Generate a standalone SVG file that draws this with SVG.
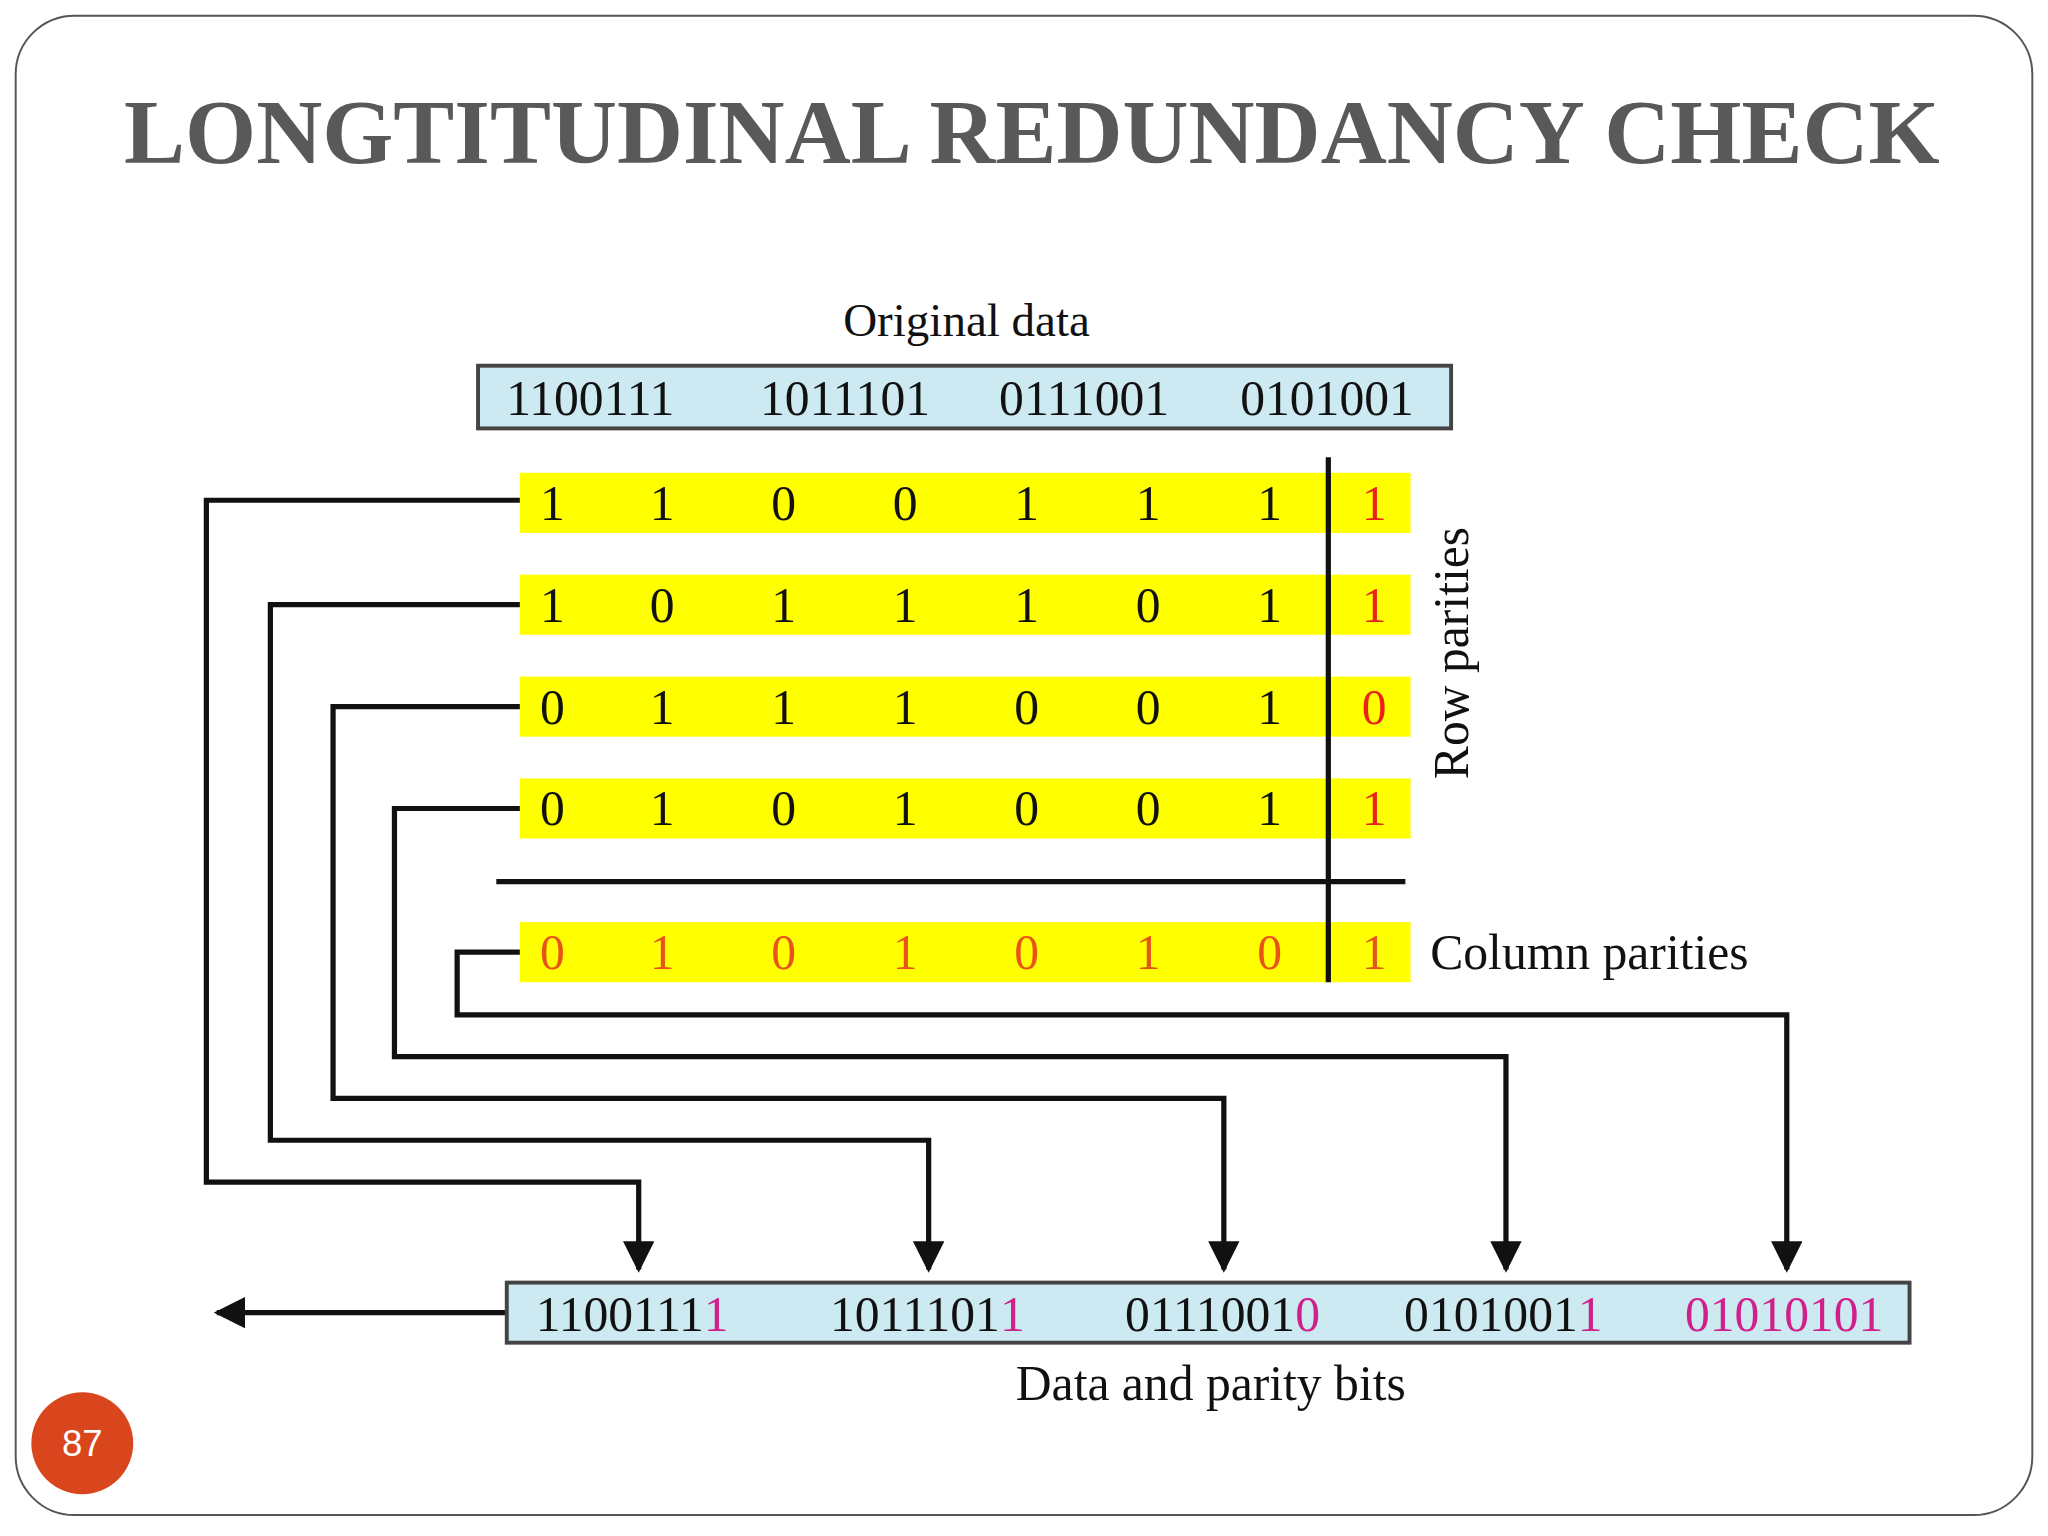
<svg xmlns="http://www.w3.org/2000/svg" width="2048" height="1536" viewBox="0 0 2048 1536">
<style>
.s{font-family:"Liberation Serif",serif;fill:#111}
.d{font-size:38px;text-anchor:middle}
.r{fill:#e8231a}
.o{fill:#e8531a}
.m{fill:#d0208a}
.y{fill:#ffff00}
.c{fill:none;stroke:#111;stroke-width:4}
</style>
<defs><marker id="a" viewBox="0 0 10 10" refX="9" refY="5" markerWidth="6" markerHeight="6" orient="auto"><path d="M0,0L10,5L0,10z" fill="#111"/></marker></defs>
<rect width="2048" height="1536" fill="#fff"/>
<g transform="scale(1.30612)">
<rect x="12" y="12" width="1544" height="1148" rx="45" fill="#fff" stroke="#555" stroke-width="1.5"/>
<text x="790" y="125" text-anchor="middle" font-family="Liberation Serif,serif" font-weight="bold" font-size="69" fill="#595959" textLength="1390" lengthAdjust="spacingAndGlyphs">LONGTITUDINAL REDUNDANCY CHECK</text>
<g id="orig">
<text class="s" x="740" y="257" text-anchor="middle" font-size="36">Original data</text>
<rect x="366" y="280" width="745" height="48" fill="#cde9f1" stroke="#444" stroke-width="3"/>
<text class="s d" x="452" y="318">1100111</text><text class="s d" x="647" y="318">1011101</text><text class="s d" x="830" y="318">0111001</text><text class="s d" x="1016" y="318">0101001</text>
</g>
<g id="grid">
<rect class="y" x="398" y="362" width="682" height="46"/>
<rect class="y" x="398" y="440" width="682" height="46"/>
<rect class="y" x="398" y="518" width="682" height="46"/>
<rect class="y" x="398" y="596" width="682" height="46"/>
<rect class="y" x="398" y="706" width="682" height="46"/>
<g class="s d">
<text x="423" y="398">1</text><text x="507" y="398">1</text><text x="600" y="398">0</text><text x="693" y="398">0</text><text x="786" y="398">1</text><text x="879" y="398">1</text><text x="972" y="398">1</text><text class="r" x="1052" y="398">1</text>
<text x="423" y="476">1</text><text x="507" y="476">0</text><text x="600" y="476">1</text><text x="693" y="476">1</text><text x="786" y="476">1</text><text x="879" y="476">0</text><text x="972" y="476">1</text><text class="r" x="1052" y="476">1</text>
<text x="423" y="554">0</text><text x="507" y="554">1</text><text x="600" y="554">1</text><text x="693" y="554">1</text><text x="786" y="554">0</text><text x="879" y="554">0</text><text x="972" y="554">1</text><text class="r" x="1052" y="554">0</text>
<text x="423" y="632">0</text><text x="507" y="632">1</text><text x="600" y="632">0</text><text x="693" y="632">1</text><text x="786" y="632">0</text><text x="879" y="632">0</text><text x="972" y="632">1</text><text class="r" x="1052" y="632">1</text>
<text class="o" x="423" y="742">0</text><text class="o" x="507" y="742">1</text><text class="o" x="600" y="742">0</text><text class="o" x="693" y="742">1</text><text class="o" x="786" y="742">0</text><text class="o" x="879" y="742">1</text><text class="o" x="972" y="742">0</text><text class="o" x="1052" y="742">1</text>
</g>
<line x1="1017" y1="350" x2="1017" y2="752" stroke="#111" stroke-width="4"/>
<line x1="380" y1="675" x2="1076" y2="675" stroke="#111" stroke-width="4"/>
<text class="s" transform="translate(1124,500) rotate(-90)" text-anchor="middle" font-size="38">Row parities</text>
<text class="s" x="1095" y="742" font-size="38">Column parities</text>
</g>
<g id="connectors">
<path class="c" d="M398,383H158V905H489V972" marker-end="url(#a)"/>
<path class="c" d="M398,463H207V873H711V972" marker-end="url(#a)"/>
<path class="c" d="M398,541H255V841H937V972" marker-end="url(#a)"/>
<path class="c" d="M398,619H302V809H1153V972" marker-end="url(#a)"/>
<path class="c" d="M398,729H350V777H1368V972" marker-end="url(#a)"/>
<path class="c" d="M388,1005H166" marker-end="url(#a)"/>
</g>
<g id="output">
<rect x="388" y="982" width="1074" height="46" fill="#cde9f1" stroke="#444" stroke-width="3"/>
<g class="s d">
<text x="484" y="1019">1100111<tspan class="m">1</tspan></text>
<text x="710" y="1019">1011101<tspan class="m">1</tspan></text>
<text x="936" y="1019">0111001<tspan class="m">0</tspan></text>
<text x="1151" y="1019">0101001<tspan class="m">1</tspan></text>
<text class="m" x="1366" y="1019">01010101</text>
</g>
<text class="s" x="927" y="1072" text-anchor="middle" font-size="38">Data and parity bits</text>
</g>
<g id="page">
<circle cx="63" cy="1105" r="39" fill="#d9451c"/>
<text x="63" y="1115" text-anchor="middle" font-family="Liberation Sans,sans-serif" font-size="28" fill="#fff">87</text>
</g>
</g>
</svg>
